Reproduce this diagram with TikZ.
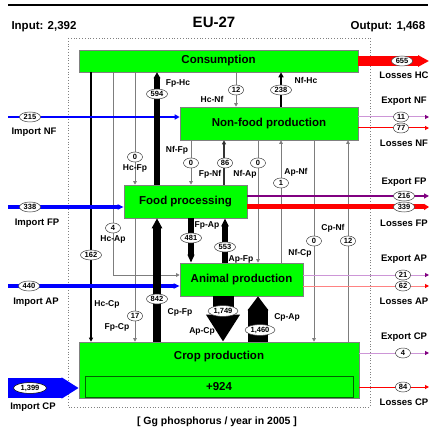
\documentclass[tikz,border=0pt]{standalone}
\usepackage{fontspec}
\setmainfont{Liberation Sans}
\usetikzlibrary{arrows.meta,shapes.geometric}
\definecolor{boxgreen}{RGB}{0,255,0}
\definecolor{ingreen}{RGB}{0,100,0}
\definecolor{expurple}{RGB}{128,0,128}
\definecolor{exlight}{RGB}{205,150,215}
\definecolor{losslight}{RGB}{255,130,130}
\definecolor{flowgray}{RGB}{125,125,125}
\begin{document}
\begin{tikzpicture}[x=1pt,y=-1pt,
  box/.style={draw=gray, line width=0.6pt, fill=boxgreen, inner sep=0pt, font=\fontsize{11.5}{13}\selectfont\bfseries},
  val/.style={ellipse, draw=black!75, line width=0.5pt, fill=white, inner xsep=1.2pt, inner ysep=0.6pt, minimum width=15pt, minimum height=10pt, font=\fontsize{7.5}{8}\selectfont\bfseries},
  lbl/.style={inner sep=0pt, font=\fontsize{8.5}{9}\selectfont\bfseries},
  olbl/.style={inner sep=0pt, font=\fontsize{9.5}{11}\selectfont\bfseries},
  toplbl/.style={inner sep=0pt, font=\fontsize{11.5}{13}\selectfont\bfseries},
  thinflow/.style={draw=flowgray, line width=0.7pt, -{Triangle[width=3.5pt,length=3.5pt]}},
  smalltip/.style={-{Triangle[width=4pt,length=4pt]}}
]
\useasboundingbox (0,0) rectangle (430,427);

% header
\draw[line width=2pt] (8,5) -- (428,5);
\node[toplbl] (input) at (44,27) {Input: 2,392};
\node[inner sep=0pt, font=\fontsize{15}{17}\selectfont\bfseries] (title) at (214,22.5) {EU-27};
\node[toplbl] (output) at (388,27) {Output: 1,468};
\node[inner sep=0pt, font=\fontsize{10.5}{12}\selectfont\bfseries] (caption) at (217,422) {[ Gg phosphorus / year in 2005 ]};

% system boundary
\draw[gray, dotted, line width=0.8pt] (68,38) rectangle (370,407);

% boxes
\node[box, minimum width=279pt, minimum height=22pt] (cons) at (218.5,61) {Consumption};
\node[box, minimum width=178pt, minimum height=33pt] (nf) at (269,123.5) {Non-food production};
\node[box, minimum width=123pt, minimum height=33pt] (fp) at (185.5,201.5) {Food processing};
\node[box, minimum width=123pt, minimum height=33pt] (ap) at (241.5,279.5) {Animal production};
\node[box, minimum width=280pt, minimum height=56pt] (cp) at (219,370) {};
\node[box, draw=none, fill=none] (cplbl) at (219,357) {Crop production};
\node[box, draw=ingreen, minimum width=268pt, minimum height=21pt] (surplus) at (219,386.5) {+924};

% free ends
\coordinate (inNF) at (8,117);
\coordinate (inFP) at (8,207);
\coordinate (inAP) at (8,286);
\coordinate (inCP) at (8,388);
\coordinate (outHC) at (429,61);
\coordinate (outNFe) at (429,117);
\coordinate (outNFl) at (429,128);
\coordinate (outFPe) at (429,196);
\coordinate (outFPl) at (429,207);
\coordinate (outAPe) at (429,275);
\coordinate (outAPl) at (429,286);
\coordinate (outCPe) at (429,353);
\coordinate (outCPl) at (429,387);

% thin internal flows
\draw[line width=1.6pt, smalltip] (cons.south -| 91,0) -- (cp.north -| 91,0);
\draw[thinflow] (cons.south -| 113,0) |- (ap.west |- 0,275);
\draw[thinflow] (cons.south -| 135,0) -- (fp.north -| 135,0);
\draw[thinflow] (fp.south -| 135,0) -- (cp.north -| 135,0);
\draw[thinflow] (cons.south -| 236,0) -- (nf.north -| 236,0);
\draw[line width=2.5pt, -{Triangle[width=5pt,length=5pt]}] (nf.north -| 281,0) -- (cons.south -| 281,0);
\draw[thinflow] (nf.south -| 191,0) -- (fp.north -| 191,0);
\draw[black!80, line width=1.2pt, smalltip] (fp.north -| 224,0) -- (nf.south -| 224,0);
\draw[thinflow] (nf.south -| 258,0) -- (ap.north -| 258,0);
\draw[thinflow] (ap.north -| 281,0) -- (nf.south -| 281,0);
\draw[thinflow] (nf.south -| 314,0) -- (cp.north -| 314,0);
\draw[thinflow] (cp.north -| 348,0) -- (nf.south -| 348,0);

% imports
\draw[blue, line width=2pt, -{Triangle[width=5pt,length=5pt]}] (inNF) -- (inNF -| nf.west);
\draw[blue, line width=4.5pt, -{Triangle[width=5pt,length=6pt]}] (inFP) -- (inFP -| fp.west);
\draw[blue, line width=4.5pt, -{Triangle[width=5pt,length=6pt]}] (inAP) -- (inAP -| ap.west);
\draw[blue, line width=20pt, -{Triangle[width=20pt,length=17pt]}] (inCP) -- (inCP -| cp.west);

% thick internal flows
\draw[line width=6pt, -{Triangle[width=6.5pt,length=6pt]}] (fp.north -| 157,0) -- (cons.south -| 157,0);
\draw[line width=8pt, -{Triangle[width=10pt,length=10pt]}] (cp.north -| 157,0) -- (fp.south -| 157,0);
\draw[line width=6pt, -{Triangle[width=6.5pt,length=8pt]}] (fp.south -| 191,0) -- (ap.north -| 191,0);
\draw[line width=6.5pt, -{Triangle[width=7pt,length=8pt]}] (ap.north -| 225,0) -- (fp.south -| 225,0);
\draw[line width=21pt, -{Triangle[width=32pt,length=27pt]}] (ap.south -| 223,0) -- (cp.north -| 223,0);
\draw[line width=20pt, -{Triangle[width=20pt,length=14pt]}] (cp.north -| 258,0) -- (ap.south -| 258,0);

% outputs
\draw[red, line width=10pt, -{Triangle[width=11pt,length=11pt]}] (cons.east) -- (outHC);
\draw[exlight, line width=1pt, -{Triangle[width=4pt,length=4pt,color=expurple]}] (outNFe -| nf.east) -- (outNFe);
\draw[red, line width=1pt, smalltip] (outNFl -| nf.east) -- (outNFl);
\draw[expurple, line width=1.8pt, -{Triangle[width=5pt,length=5pt]}] (outFPe -| fp.east) -- (outFPe);
\draw[red, line width=5pt, -{Triangle[width=6pt,length=5pt]}] (outFPl -| fp.east) -- (outFPl);
\draw[exlight, line width=1pt, -{Triangle[width=4pt,length=4pt,color=expurple]}] (outAPe -| ap.east) -- (outAPe);
\draw[losslight, line width=1pt, -{Triangle[width=4pt,length=4pt,color=red]}] (outAPl -| ap.east) -- (outAPl);
\draw[exlight, line width=1pt, -{Triangle[width=4pt,length=4pt,color=expurple]}] (outCPe -| cp.east) -- (outCPe);
\draw[red, line width=1pt, smalltip] (outCPl -| cp.east) -- (outCPl);

% values on flows
\node[val] (v594) at (157,94) {594};
\node[val] (v12a) at (236,90) {12};
\node[val] (v238) at (281,90) {238};
\node[val] (v0a) at (135,157) {0};
\node[val] (v0b) at (191,163) {0};
\node[val] (v86) at (225,163) {86};
\node[val] (v0c) at (258,163) {0};
\node[val] (v1) at (281,183) {1};
\node[val] (v0d) at (314,241) {0};
\node[val] (v12b) at (348,241) {12};
\node[val] (v4a) at (113,228) {4};
\node[val] (v162) at (91,255) {162};
\node[val] (v17) at (135,316) {17};
\node[val] (v842) at (157,299) {842};
\node[val] (v481) at (191,238) {481};
\node[val] (v553) at (225,247) {553};
\node[val] (v1749) at (223,311) {1,749};
\node[val] (v1460) at (260,330) {1,460};

% flow labels
\node[lbl] (lFpHc) at (178,83) {Fp-Hc};
\node[lbl] (lHcNf) at (212,99) {Hc-Nf};
\node[lbl] (lNfHc) at (306,80) {Nf-Hc};
\node[lbl] (lHcFp) at (135,168) {Hc-Fp};
\node[lbl] (lNfFp) at (177,150) {Nf-Fp};
\node[lbl] (lFpNf) at (210,174) {Fp-Nf};
\node[lbl] (lNfAp) at (245,174) {Nf-Ap};
\node[lbl] (lApNf) at (296,172) {Ap-Nf};
\node[lbl] (lNfCp) at (300,253) {Nf-Cp};
\node[lbl] (lCpNf) at (333,228) {Cp-Nf};
\node[lbl] (lHcAp) at (113,239) {Hc-Ap};
\node[lbl] (lHcCp) at (107,304) {Hc-Cp};
\node[lbl] (lFpCp) at (117,327) {Fp-Cp};
\node[lbl] (lCpFp) at (180,312) {Cp-Fp};
\node[lbl] (lFpAp) at (207,225) {Fp-Ap};
\node[lbl] (lApFp) at (241,259) {Ap-Fp};
\node[lbl] (lApCp) at (202,331) {Ap-Cp};
\node[lbl] (lCpAp) at (287,317) {Cp-Ap};

% imports values and labels
\node[val] (i215) at (30,117) {215};
\node[olbl] (lInNF) at (34,132) {Import NF};
\node[val] (i338) at (30,207) {338};
\node[olbl] (lInFP) at (37,223) {Import FP};
\node[val] (i440) at (29,286) {440};
\node[olbl] (lInAP) at (36,302) {Import AP};
\node[val, draw=black, minimum width=33pt] (i1399) at (30,388) {1,399};
\node[olbl] (lInCP) at (33,407) {Import CP};

% outputs values and labels
\node[val] (o655) at (402,61) {655};
\node[olbl] (lLHC) at (404,75) {Losses HC};
\node[olbl] (lENF) at (404,101) {Export NF};
\node[val] (o11) at (401,117) {11};
\node[val] (o77) at (401,128) {77};
\node[olbl] (lLNF) at (404,143) {Losses NF};
\node[olbl] (lEFP) at (404,182) {Export FP};
\node[val] (o216) at (404,196) {216};
\node[val] (o339) at (404,207) {339};
\node[olbl] (lLFP) at (404,223) {Losses FP};
\node[olbl] (lEAP) at (404,259) {Export AP};
\node[val] (o21) at (403,275) {21};
\node[val] (o62) at (403,286) {62};
\node[olbl] (lLAP) at (404,301) {Losses AP};
\node[olbl] (lECP) at (404,337) {Export CP};
\node[val] (o4) at (403,353) {4};
\node[val] (o84) at (403,387) {84};
\node[olbl] (lLCP) at (404,402) {Losses CP};
\end{tikzpicture}
\end{document}
